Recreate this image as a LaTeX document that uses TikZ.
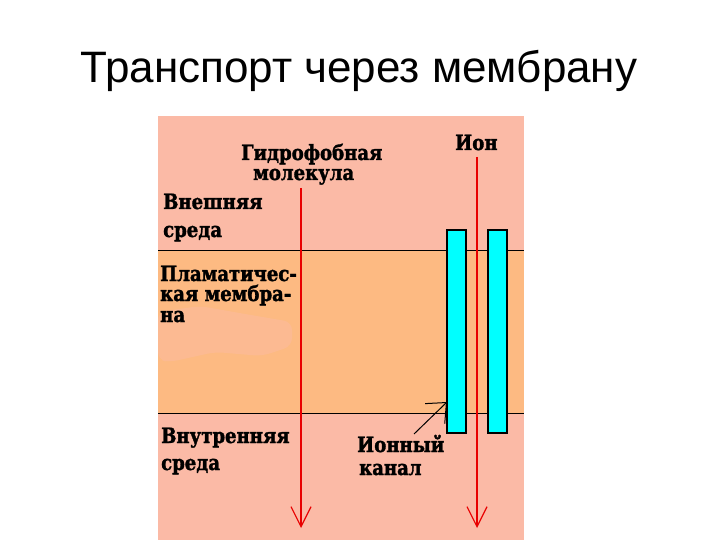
\documentclass[tikz,border=0pt]{standalone}
\usepackage{fontspec}
\setmainfont{Liberation Sans}
\newfontfamily\lbl[FakeStretch=0.86,FakeBold=1.6]{DejaVu Serif}
\usetikzlibrary{arrows.meta}
\definecolor{envpink}{RGB}{251,186,166}
\definecolor{mempeach}{RGB}{253,186,130}
\definecolor{chancyan}{RGB}{0,255,255}
\definecolor{arrred}{RGB}{232,0,0}
\tikzset{
  lab/.style={font=\lbl\bfseries\fontsize{21}{23}\selectfont, inner sep=0pt, anchor=base west, text=black},
  flow/.style={draw=arrred, line width=1.8pt, -{Straight Barb[length=20pt,width=20pt,line width=1.2pt]}},
  chan/.style={draw=black, line width=1.8pt, fill=chancyan},
  memline/.style={draw=black, line width=0.8pt},
  pointer/.style={draw=black, line width=1pt, -{Straight Barb[length=16pt,width=28pt,line width=1pt]}}
}
\begin{document}
\begin{tikzpicture}[x=1pt,y=-1pt]
\useasboundingbox (0,0) rectangle (720,540);
\fill[white] (0,0) rectangle (720,540);
% title
\node[font=\fontsize{44}{50}\selectfont, anchor=base, inner sep=0pt] (title) at (359,83) {Транспорт через мембрану};
% environment
\fill[envpink] (158,116) rectangle (524,540);
\fill[mempeach] (158,250) rectangle (524,413);
% faint label backdrop
\fill[envpink!45!mempeach, rounded corners=8pt] (158,312) -- (200,306) -- (245,314) -- (292,322) -- (292,346) -- (262,356) -- (215,352) -- (170,362) -- (158,360) -- cycle;
\draw[memline] (158,250) -- (524,250);
\draw[memline] (158,413) -- (524,413);
% channel
\draw[chan] (447,230) rectangle (466,433);
\draw[chan] (488,230) rectangle (507,433);
% arrows
\coordinate (hs) at (301,188);
\coordinate (he) at (301,528);
\coordinate (is) at (477,157);
\coordinate (ie) at (477,528);
\draw[flow] (hs) -- (he);
\draw[flow] (is) -- (ie);
% labels
\node[lab] (hyd1) at (241,160) {Гидрофобная};
\node[lab] (hyd2) at (253,180) {молекула};
\node[lab] (ion) at (455,150) {Ион};
\node[lab] (out1) at (163,209) {Внешняя};
\node[lab] (out2) at (163,237) {среда};
\node[lab] (mem1) at (160,281) {Пламатичес-};
\node[lab] (mem2) at (160,301) {кая мембра-};
\node[lab] (mem3) at (160,322) {на};
\node[lab] (in1) at (161,443) {Внутренняя};
\node[lab] (in2) at (161,470) {среда};
\node[lab] (ch1) at (357,452) {Ионный};
\node[lab] (ch2) at (359,475) {канал};
\coordinate (ps) at (414,434);
\coordinate (pe) at (447,402);
\draw[pointer] (ps) -- (pe);
\end{tikzpicture}
\end{document}
